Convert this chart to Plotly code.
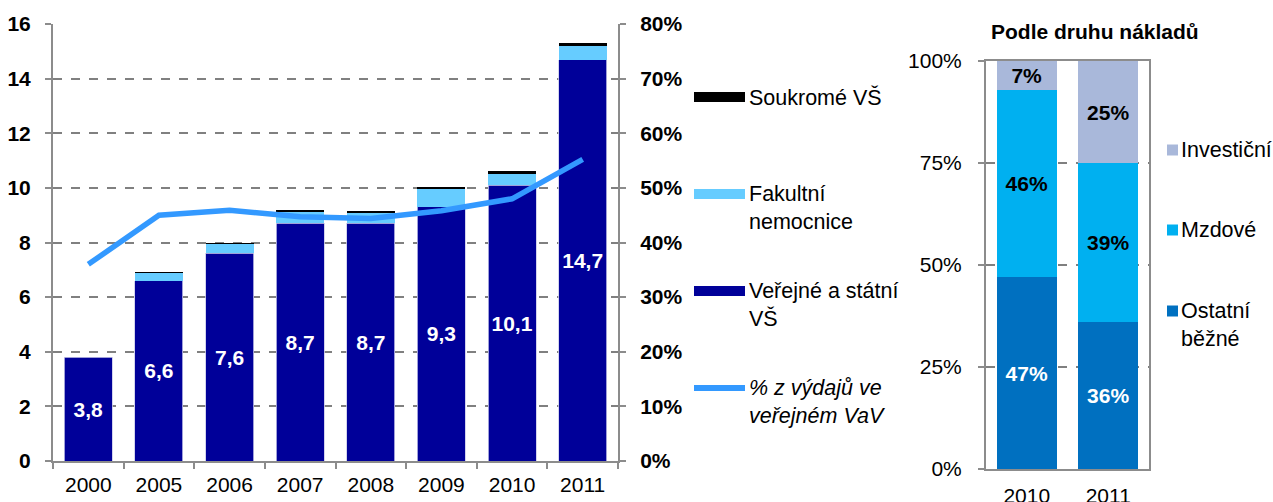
import plotly.graph_objects as go

# ------------------------------------------------------------
# Data

years = ["2000", "2005", "2006", "2007", "2008", "2009", "2010", "2011"]
verejne_vs = [3.8, 6.6, 7.6, 8.7, 8.7, 9.3, 10.1, 14.7]
fakultni_nem = [0.0, 0.3, 0.35, 0.42, 0.38, 0.66, 0.44, 0.5]
soukrome_vs = [0.0, 0.02, 0.03, 0.05, 0.05, 0.05, 0.07, 0.1]
podil_vav = [36.0, 45.0, 45.9, 44.7, 44.4, 45.8, 48.0, 55.2]

roky_naklady = ["2010", "2011"]
ostatni_bezne = [47, 36]
mzdove = [46, 39]
investicni = [7, 25]

W, H = 1273, 502
FONT = "Liberation Sans, Arial, sans-serif"
GRID = "#808080"
AXIS = "#8c8c8c"
FS = 21


def px_x(x):
    return x / W


def px_y(y):
    return 1 - y / H


def cz(v):
    return f"{v:.1f}".replace(".", ",")

# ------------------------------------------------------------

fig = go.Figure()

fig.add_trace(go.Bar(
    x=years, y=verejne_vs, name="Veřejné a státní VŠ",
    marker=dict(color="#000099", line=dict(color="#c8c8e8", width=0.8)),
    width=0.68,
    text=[cz(v) for v in verejne_vs], textposition="inside",
    insidetextanchor="middle", textangle=0, constraintext="none",
    textfont=dict(color="white", size=FS, family=FONT, weight="bold"),
    showlegend=False, xaxis="x", yaxis="y"))
fig.add_trace(go.Bar(
    x=years, y=fakultni_nem, name="Fakultní nemocnice",
    marker=dict(color="#66CCFF", line=dict(width=0)), width=0.68,
    showlegend=False, xaxis="x", yaxis="y"))
fig.add_trace(go.Bar(
    x=years, y=soukrome_vs, name="Soukromé VŠ",
    marker=dict(color="#000000", line=dict(width=0)), width=0.68,
    showlegend=False, xaxis="x", yaxis="y"))
fig.add_trace(go.Scatter(
    x=years, y=podil_vav, mode="lines", name="% z výdajů ve veřejném VaV",
    line=dict(color="#3399FF", width=5.5),
    showlegend=False, xaxis="x", yaxis="y2"))

# right panel
for vals, name, col, tcol in [
        (ostatni_bezne, "Ostatní běžné", "#0070C0", "white"),
        (mzdove, "Mzdové", "#00B0F0", "black"),
        (investicni, "Investiční", "#A9B8DA", "black")]:
    fig.add_trace(go.Bar(
        x=roky_naklady, y=vals, name=name,
        marker=dict(color=col, line=dict(width=0)), width=0.74,
        text=[f"{v}%" for v in vals], textposition="inside",
        insidetextanchor="middle", textangle=0, constraintext="none",
        textfont=dict(color=tcol, size=FS, family=FONT, weight="bold"),
        showlegend=False, xaxis="x2", yaxis="y3"))

fig.update_layout(
    width=W, height=H,
    margin=dict(l=0, r=0, t=0, b=0),
    paper_bgcolor="white", plot_bgcolor="white",
    barmode="stack",
    font=dict(family=FONT, size=FS, color="black"),
    xaxis=dict(
        domain=[px_x(53), px_x(618)], type="category", automargin=False,
        showline=True, linecolor=AXIS, linewidth=2,
        ticks="outside", tickson="boundaries", ticklen=6, tickcolor=AXIS,
        tickwidth=2, ticklabelstandoff=4,
        tickfont=dict(size=FS, color="black"), showgrid=False),
    yaxis=dict(
        domain=[px_y(461), px_y(24)], range=[0, 16], dtick=2,
        automargin=False,
        showline=True, linecolor=AXIS, linewidth=2,
        ticks="outside", ticklen=6, tickcolor=AXIS, tickwidth=2,
        ticklabelstandoff=10,
        tickfont=dict(size=FS, color="black", weight="bold"),
        showgrid=True, gridcolor=GRID, gridwidth=1.5, griddash="dash",
        zeroline=False),
    yaxis2=dict(
        overlaying="y", side="right", anchor="x", range=[0, 80], dtick=10,
        automargin=False,
        ticksuffix="%", showline=True, linecolor=AXIS, linewidth=2,
        ticks="outside", ticklen=6, tickcolor=AXIS, tickwidth=2,
        ticklabelstandoff=10,
        tickfont=dict(size=FS, color="black", weight="bold"),
        showgrid=False, zeroline=False),
    xaxis2=dict(
        domain=[px_x(986), px_x(1149)], anchor="y3", type="category",
        automargin=False,
        showline=True, mirror=True, linecolor=AXIS, linewidth=2,
        ticks="", ticklabelstandoff=7,
        tickfont=dict(size=FS, color="black"), showgrid=False),
    yaxis3=dict(
        domain=[px_y(469), px_y(61)], anchor="x2", range=[0, 100], dtick=25,
        automargin=False,
        ticksuffix="%", showline=True, mirror=True, linecolor=AXIS,
        linewidth=2, ticks="outside", ticklen=6, tickcolor=AXIS, tickwidth=2,
        ticklabelstandoff=12,
        tickfont=dict(size=FS, color="black"),
        showgrid=True, gridcolor=GRID, gridwidth=1.5, griddash="dash",
        zeroline=False),
)

# ------------------------------------------------------------
# hand-drawn legends

shapes = []
annotations = []

left_legend = [
    ("Soukromé VŠ", "#000000", 97, 10, False),
    ("Fakultní<br>nemocnice", "#66CCFF", 194, 10, False),
    ("Veřejné a státní<br>VŠ", "#000099", 291, 10, False),
    ("% z výdajů ve<br>veřejném VaV", "#3399FF", 388, 6, True),
]
for label, col, yc, thick, italic in left_legend:
    shapes.append(dict(type="line", xref="paper", yref="paper",
                       x0=px_x(694), x1=px_x(745), y0=px_y(yc), y1=px_y(yc),
                       line=dict(color=col, width=thick)))
    annotations.append(dict(
        text=f"<i>{label}</i>" if italic else label,
        xref="paper", yref="paper", x=px_x(747), y=px_y(yc - 14),
        xanchor="left", yanchor="top", align="left", showarrow=False,
        font=dict(size=21.5, color="black")))

right_legend = [
    ("Investiční", "#A9B8DA", 150),
    ("Mzdové", "#00B0F0", 230),
    ("Ostatní<br>běžné", "#0070C0", 311),
]
for label, col, yc in right_legend:
    shapes.append(dict(type="rect", xref="paper", yref="paper",
                       x0=px_x(1167), x1=px_x(1178),
                       y0=px_y(yc - 5.5), y1=px_y(yc + 5.5),
                       fillcolor=col, line=dict(width=0)))
    annotations.append(dict(
        text=label, xref="paper", yref="paper", x=px_x(1179),
        y=px_y(yc - 14), xanchor="left", yanchor="top", align="left",
        showarrow=False, font=dict(size=21.5, color="black")))

annotations.append(dict(
    text="<b>Podle druhu nákladů</b>", xref="paper", yref="paper",
    x=px_x(1095), y=px_y(32), xanchor="center", yanchor="middle",
    showarrow=False, font=dict(size=21, color="black")))

fig.update_layout(shapes=shapes, annotations=annotations)

# page body has a default 8px margin, drop it so the figure fills the window
fig.write_html("out.html", config={"displayModeBar": False},
               post_script="document.body.style.margin='0px';")
